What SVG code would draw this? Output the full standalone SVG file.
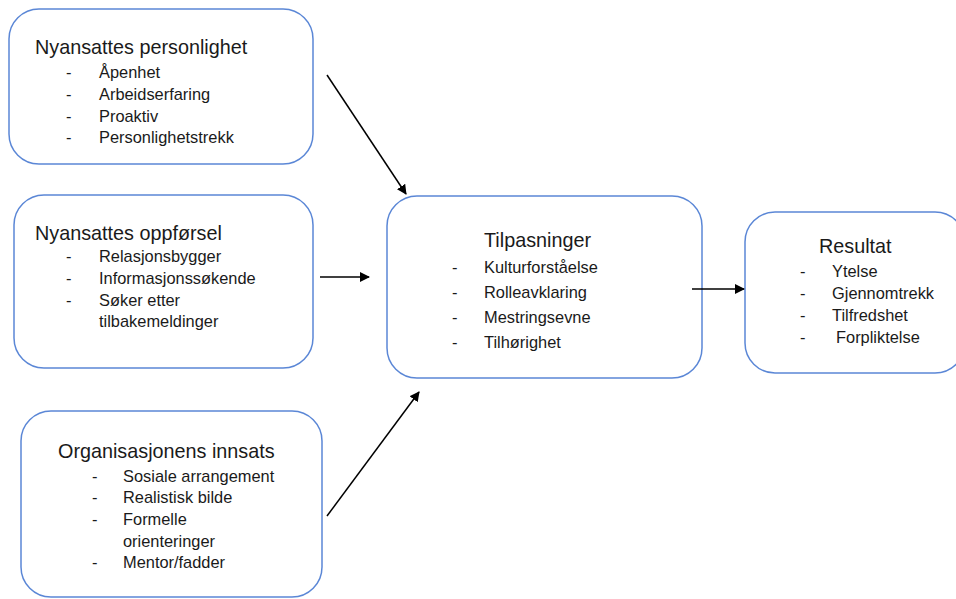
<svg xmlns="http://www.w3.org/2000/svg" width="956" height="599" viewBox="0 0 956 599">
<defs>
<marker id="ah" markerWidth="10" markerHeight="10" refX="9" refY="5" orient="auto" markerUnits="userSpaceOnUse" viewBox="0 0 10 10">
<path d="M0,0 L10,5 L0,10 z" fill="#000"/>
</marker>
<style>
.box{fill:#fff;stroke:#5B87D6;stroke-width:1.5}
text{font-family:"Liberation Sans",Arial,sans-serif;fill:#1a1a1a}
.t{font-size:19.8px}
.i{font-size:16.4px}
.c{stroke:#000;stroke-width:1.5;fill:none;marker-end:url(#ah)}
</style>
</defs>
<rect width="956" height="599" fill="#fff"/>
<g id="personlighet">
<rect class="box" x="9" y="9" width="304" height="155" rx="30"/>
<text class="t" x="35" y="54">Nyansattes personlighet</text>
<text class="i" x="66" y="78">-</text><text class="i" x="99" y="78">Åpenhet</text>
<text class="i" x="66" y="100">-</text><text class="i" x="99" y="100">Arbeidserfaring</text>
<text class="i" x="66" y="122">-</text><text class="i" x="99" y="122">Proaktiv</text>
<text class="i" x="66" y="143">-</text><text class="i" x="99" y="143">Personlighetstrekk</text>
</g>
<g id="oppforsel">
<rect class="box" x="14" y="195" width="299" height="173" rx="30"/>
<text class="t" x="35" y="240">Nyansattes oppførsel</text>
<text class="i" x="66" y="262">-</text><text class="i" x="99" y="262">Relasjonsbygger</text>
<text class="i" x="66" y="284">-</text><text class="i" x="99" y="284">Informasjonssøkende</text>
<text class="i" x="66" y="306">-</text><text class="i" x="99" y="306">Søker etter</text>
<text class="i" x="99" y="327">tilbakemeldinger</text>
</g>
<g id="organisasjon">
<rect class="box" x="21" y="411" width="301" height="186" rx="30"/>
<text class="t" x="58" y="458">Organisasjonens innsats</text>
<text class="i" x="92" y="482">-</text><text class="i" x="123" y="482">Sosiale arrangement</text>
<text class="i" x="92" y="503">-</text><text class="i" x="123" y="503">Realistisk bilde</text>
<text class="i" x="92" y="525">-</text><text class="i" x="123" y="525">Formelle</text>
<text class="i" x="123" y="547">orienteringer</text>
<text class="i" x="92" y="568">-</text><text class="i" x="123" y="568">Mentor/fadder</text>
</g>
<g id="tilpasninger">
<rect class="box" x="387" y="196" width="315" height="182" rx="30"/>
<text class="t" x="484" y="247">Tilpasninger</text>
<text class="i" x="452" y="273">-</text><text class="i" x="484" y="273">Kulturforståelse</text>
<text class="i" x="452" y="298">-</text><text class="i" x="484" y="298">Rolleavklaring</text>
<text class="i" x="452" y="323">-</text><text class="i" x="484" y="323">Mestringsevne</text>
<text class="i" x="452" y="348">-</text><text class="i" x="484" y="348">Tilhørighet</text>
</g>
<g id="resultat">
<rect class="box" x="745" y="212" width="220" height="161" rx="30"/>
<text class="t" x="819" y="253">Resultat</text>
<text class="i" x="800" y="277">-</text><text class="i" x="832" y="277">Ytelse</text>
<text class="i" x="800" y="299">-</text><text class="i" x="832" y="299">Gjennomtrekk</text>
<text class="i" x="800" y="321">-</text><text class="i" x="832" y="321">Tilfredshet</text>
<text class="i" x="800" y="343">-</text><text class="i" x="836" y="343">Forpliktelse</text>
</g>
<g id="connectors">
<line class="c" x1="327" y1="75" x2="406" y2="194"/>
<line class="c" x1="320" y1="277" x2="369" y2="277"/>
<line class="c" x1="327" y1="516" x2="419" y2="392"/>
<line class="c" x1="692" y1="289" x2="744" y2="289"/>
</g>
</svg>
